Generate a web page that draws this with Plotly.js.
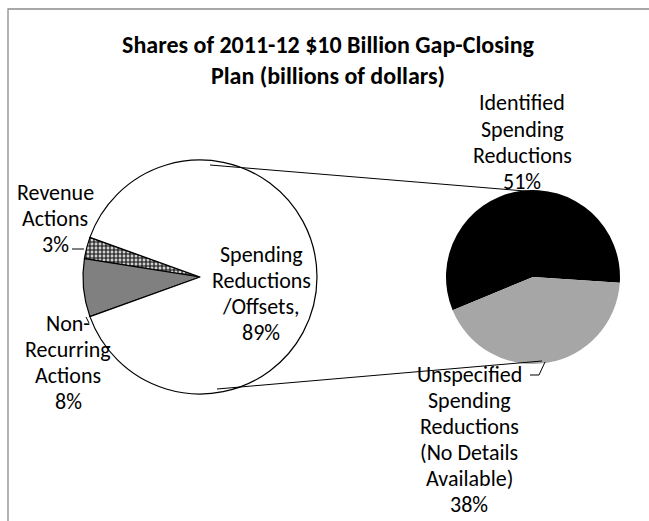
<!DOCTYPE html>
<html>
<head>
<meta charset="utf-8">
<script src="https://cdn.plot.ly/plotly-3.0.1.min.js"></script>
<style>html,body{margin:0;padding:0;background:#fff;}#chart{width:649px;height:521px;}</style>
</head>
<body>
<div id="chart"></div>
<script>
// ---- data ----
const chartTitle = "Shares of 2011-12 $10 Billion Gap-Closing<br>Plan (billions of dollars)";
const mainLabels = ["Revenue Actions", "Non-Recurring Actions", "Spending Reductions /Offsets,"];
const mainShares = [3, 8, 89];            // percent of the $10 billion plan
const detailLabels = ["Identified Spending Reductions", "Unspecified Spending Reductions (No Details Available)"];
const detailShares = [51, 38];            // percent of the plan (split of the 89%)

// ---- helpers ----
const W = 649, H = 521;
const px = x => x / W;
const py = y => 1 - y / H;
function wrapLines(label, maxChars) {
  const tokens = label.replace(/-/g, "-\u0001").split(/[ \u0001]/).filter(t => t.length);
  const lines = [];
  let cur = "";
  tokens.forEach(t => {
    if (!cur) { cur = t; return; }
    const joiner = cur.endsWith("-") ? "" : " ";
    if ((cur + joiner + t).length <= maxChars) cur = cur + joiner + t;
    else { lines.push(cur); cur = t; }
  });
  if (cur) lines.push(cur);
  return lines;
}
const FONT = "Carlito, Calibri, Lato, 'Open Sans', sans-serif";
const LABEL_SIZE = 22, LINE_GAP = 26;

// pie geometry (pixels)
const L = {cx: 200, cy: 277, r: 117};
const R = {cx: 533, cy: 277, r: 87};
function dom(c) { return {x: [px(c.cx - c.r), px(c.cx + c.r)], y: [py(c.cy + c.r), py(c.cy - c.r)]}; }

// Plotly (counterclockwise): first slice spans clockwise from `rotation`; rest continue counter-clockwise.
const mainTotal = mainShares.reduce((a, b) => a + b, 0);
const splitDeg = (mainShares[0] + mainShares[1]) / mainTotal * 360;
const mainStartMath = 180 - splitDeg / 2;                      // split slices centred on the left
const mainRotation = 90 - (mainStartMath + mainShares[0] / mainTotal * 360);
const detailTotal = detailShares[0] + detailShares[1];
const detailStartMath = -3.8;
const detailRotation = 90 - (detailStartMath + detailShares[0] / detailTotal * 360);

const traces = [
  {
    type: "pie", labels: mainLabels, values: mainShares, sort: false,
    direction: "counterclockwise", rotation: mainRotation,
    domain: dom(L), textinfo: "none", hoverinfo: "label+percent",
    marker: {
      colors: ["#ffffff", "#808080", "#ffffff"],
      line: {color: "#000000", width: 1.2},
      pattern: {shape: ["+", "", ""], fgcolor: "#111111", bgcolor: "#d0d0d0", size: 4, solidity: 0.5}
    }
  },
  {
    type: "pie", labels: detailLabels, values: detailShares, sort: false,
    direction: "counterclockwise", rotation: detailRotation,
    domain: dom(R), textinfo: "none", hoverinfo: "label",
    marker: {colors: ["#000000", "#a6a6a6"], line: {width: 0}}
  }
];

const labelPos = [{x: 55, y: 218}, {x: 68, y: 362}, {x: 261, y: 293}];
const detailPos = [{x: 522, y: 142}, {x: 469, y: 439}];
const annotations = [];
function addLabel(lab, share, pos) {
  const lines = wrapLines(lab, 11).concat([share + "%"]);
  lines.forEach((ln, k) => {
    const yy = pos.y + (k - (lines.length - 1) / 2) * LINE_GAP;
    annotations.push({xref: "paper", yref: "paper", x: px(pos.x), y: py(yy),
      xanchor: "center", yanchor: "middle", showarrow: false, align: "center", borderpad: 0,
      text: ln, font: {family: FONT, size: LABEL_SIZE, color: "#000"}});
  });
}
mainLabels.forEach((lab, i) => addLabel(lab, mainShares[i], labelPos[i]));
detailLabels.forEach((lab, i) => addLabel(lab, detailShares[i], detailPos[i]));

function seg(x0, y0, x1, y1, color, width) {
  return {type: "line", xref: "paper", yref: "paper", x0: px(x0), y0: py(y0), x1: px(x1), y1: py(y1),
    line: {color: color || "#000", width: width || 1}};
}
const shapes = [
  {type: "rect", xref: "paper", yref: "paper", x0: px(8), y0: py(540), x1: px(680), y1: py(9),
   line: {color: "#8c8c8c", width: 1.3}, fillcolor: "rgba(0,0,0,0)", layer: "below"},
  seg(210, 165, 537, 192),
  seg(217, 389, 542, 361),
  seg(72, 249, 84, 249),
  seg(86, 317, 89, 323),
  seg(545, 362, 539, 375), seg(539, 375, 530, 375)
];

const layout = {
  width: W, height: H, margin: {l: 0, r: 0, t: 0, b: 0},
  paper_bgcolor: "#ffffff", showlegend: false,
  title: {text: chartTitle, x: px(328), xanchor: "center", y: py(53), yanchor: "middle", yref: "container",
          font: {family: FONT, size: 24, color: "#000", weight: "bold"}},
  annotations: annotations, shapes: shapes
};
Plotly.newPlot("chart", traces, layout, {staticPlot: true});
</script>
</body>
</html>
